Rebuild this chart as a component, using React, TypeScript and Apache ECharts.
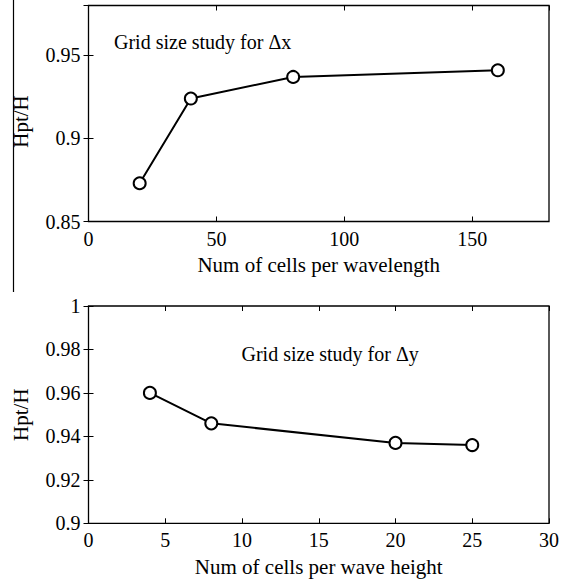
import React, { useEffect, useRef } from "react";
import * as echarts from "echarts";

const topCells = [20, 40, 80, 160];
const topRatio = [0.873, 0.924, 0.937, 0.941];
const botCells = [4, 8, 20, 25];
const botRatio = [0.96, 0.946, 0.937, 0.936];

const topTitle = "Grid size study for Δx";
const botTitle = "Grid size study for Δy";
const topXName = "Num of cells per wavelength";
const botXName = "Num of cells per wave height";
const yName = "Hpt/H";

const FONT = "Liberation Serif";

export default function App() {
  const ref = useRef<HTMLDivElement>(null);
  useEffect(() => {
    if (!ref.current) return;
    const chart = echarts.init(ref.current, null, { renderer: "svg" });
    const labelStyle = { fontFamily: FONT, fontSize: 20, color: "#000" };
    const nameStyle = { fontFamily: FONT, fontSize: 21, color: "#000" };
    const tick = { show: true, inside: true, length: 5, lineStyle: { color: "#000", width: 1 } };
    const mkX = (grid: number, min: number, max: number, interval: number, name: string) => [
      {
        type: "value", gridIndex: grid, min, max, interval, position: "bottom",
        name, nameLocation: "middle", nameGap: 33, nameTextStyle: nameStyle,
        axisLine: { show: false }, axisTick: tick, splitLine: { show: false },
        axisLabel: { ...labelStyle, margin: 7, showMaxLabel: max % interval === 0 },
      },
      {
        type: "value", gridIndex: grid, min, max, interval, position: "top",
        axisLine: { show: false }, axisTick: tick, splitLine: { show: false },
        axisLabel: { show: false },
      },
    ];
    const mkY = (grid: number, min: number, max: number, interval: number, shift: number) => [
      {
        type: "value", gridIndex: grid, min, max, interval, position: "left",
        name: yName, nameLocation: "middle", nameGap: 57,
        nameTextStyle: { ...nameStyle, padding: [0, shift, 0, 0] },
        axisLine: { show: false }, axisTick: tick, splitLine: { show: false },
        axisLabel: { ...labelStyle, margin: 8, showMaxLabel: Math.abs(max - 1) < 1e-9 },
      },
      {
        type: "value", gridIndex: grid, min, max, interval, position: "right",
        axisLine: { show: false }, axisTick: tick, splitLine: { show: false },
        axisLabel: { show: false },
      },
    ];
    const seriesStyle = {
      type: "line",
      symbol: "emptyCircle",
      symbolSize: 12,
      lineStyle: { color: "#000", width: 2 },
      itemStyle: { color: "#000", borderColor: "#000", borderWidth: 2 },
      silent: true,
    };
    chart.setOption({
      animation: false,
      backgroundColor: "#fff",
      grid: [
        { left: 88.5, right: 22, top: 5.5, height: 216, show: true, borderColor: "#000", borderWidth: 1.3, backgroundColor: "transparent" },
        { left: 88.5, right: 22, top: 306, height: 217.3, show: true, borderColor: "#000", borderWidth: 1.3, backgroundColor: "transparent" },
      ],
      xAxis: [...mkX(0, 0, 180, 50, topXName), ...mkX(1, 0, 30, 5, botXName)],
      yAxis: [...mkY(0, 0.85, 0.98, 0.05, 16), ...mkY(1, 0.9, 1.0, 0.02, 0)],
      series: [
        { ...seriesStyle, xAxisIndex: 0, yAxisIndex: 0, data: topCells.map((c, i) => [c, topRatio[i]]) },
        { ...seriesStyle, xAxisIndex: 2, yAxisIndex: 2, data: botCells.map((c, i) => [c, botRatio[i]]) },
      ],
      graphic: [
        { type: "text", x: 114, y: 41.5, style: { text: topTitle, fontFamily: FONT, fontSize: 20, fill: "#000", verticalAlign: "middle", align: "left" } },
        { type: "text", x: 241.5, y: 354, style: { text: botTitle, fontFamily: FONT, fontSize: 20, fill: "#000", verticalAlign: "middle", align: "left" } },
        { type: "line", shape: { x1: 13.5, y1: 0, x2: 13.5, y2: 292 }, style: { stroke: "#000", lineWidth: 1.2 } },
      ],
    });
    return () => chart.dispose();
  }, []);
  return <div ref={ref} style={{ position: "fixed", left: 0, top: 0, width: 571, height: 581 }} />;
}
